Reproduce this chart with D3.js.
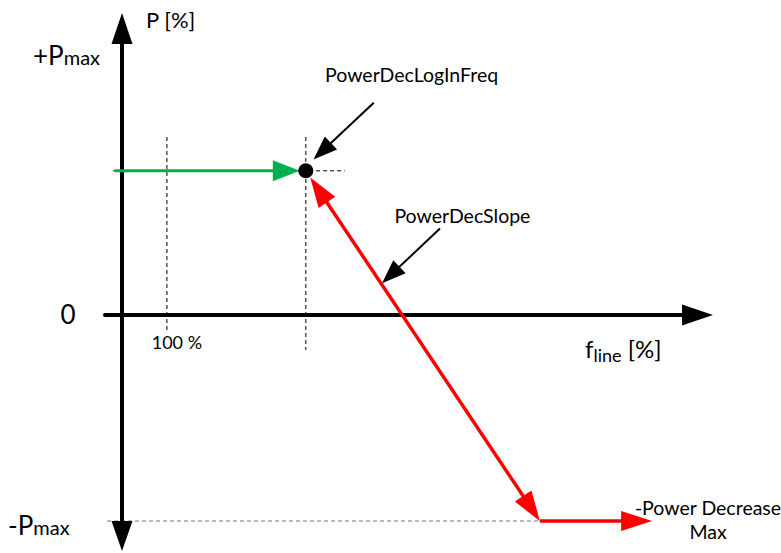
<!DOCTYPE html>
<html><head><meta charset="utf-8">
<script src="https://cdn.jsdelivr.net/npm/d3@7"></script>
<style>body{margin:0;background:#fff}svg{display:block}text{font-family:Lato,"Open Sans",sans-serif;fill:#000}</style>
</head><body>
<script>
// Conceptual data: f in "axis units" (0..100 along the f axis), P in % of Pmax
const curveLogIn = [[-1.2, 70], [31.1, 70]];           // green: constant power up to log-in freq
const curveSlope = [[31.1, 70], [70.7, -100]];          // red: PowerDecSlope
const curveMax   = [[70.7, -100], [89.7, -100]];        // red: -Power Decrease Max
const refFreq = 7.6;            // 100 % mark
const logInFreq = 31.1;         // PowerDecLogInFreq
const yTickLabels = [
  {v: 125.5, t: "+P", s: "max"},
  {v: 0, t: "0", s: ""},
  {v: -102.5, t: "-P", s: "max"}
];
const annotations = [
  {text: "PowerDecLogInFreq", from: [42.6, 103], to: [32.4, 75.5], tx: 49.0, ty: 113},
  {text: "PowerDecSlope", from: [53.8, 42], to: [44.0, 15.4], tx: 57.6, ty: 44.5}
];

const W = 781, H = 553;
const x = d3.scaleLinear().domain([0, 100]).range([122, 713]);
const y = d3.scaleLinear().domain([-100, 100]).range([521, 109]);
const svg = d3.select("body").append("svg").attr("width", W).attr("height", H);
const labelStyle = [{x: 33, anchor: "start"}, {x: 68, anchor: "middle"}, {x: 8, anchor: "start"}];

function arrowHead(g, p0, p1, len, hw, color) {
  const dx = p1[0] - p0[0], dy = p1[1] - p0[1], L = Math.hypot(dx, dy);
  const ux = dx / L, uy = dy / L, bx = p1[0] - ux * len, by = p1[1] - uy * len;
  g.append("path").attr("d", `M${p1[0]},${p1[1]}L${bx - uy * hw},${by + ux * hw}L${bx + uy * hw},${by - ux * hw}Z`).attr("fill", color);
}
function arrowLine(g, p0, p1, color, w, len, hw, both) {
  const dx = p1[0] - p0[0], dy = p1[1] - p0[1], L = Math.hypot(dx, dy);
  const ux = dx / L, uy = dy / L;
  const s = both ? [p0[0] + ux * len * 0.8, p0[1] + uy * len * 0.8] : p0;
  const e = [p1[0] - ux * len * 0.8, p1[1] - uy * len * 0.8];
  g.append("line").attr("x1", s[0]).attr("y1", s[1]).attr("x2", e[0]).attr("y2", e[1]).attr("stroke", color).attr("stroke-width", w);
  arrowHead(g, p0, p1, len, hw, color);
  if (both) arrowHead(g, p1, p0, len, hw, color);
}

// dashed helper lines
svg.append("line").attr("x1", x(refFreq)).attr("x2", x(refFreq)).attr("y1", 137).attr("y2", 330)
  .attr("stroke", "#000").attr("stroke-width", 1).attr("stroke-dasharray", "4,3");
svg.append("line").attr("x1", x(logInFreq)).attr("x2", x(logInFreq)).attr("y1", 137).attr("y2", 350)
  .attr("stroke", "#000").attr("stroke-width", 1).attr("stroke-dasharray", "4,3");
svg.append("line").attr("x1", x(-1.5)).attr("x2", x(37.7)).attr("y1", y(70)).attr("y2", y(70))
  .attr("stroke", "#000").attr("stroke-width", 1).attr("stroke-dasharray", "4,3");
svg.append("line").attr("x1", 107).attr("x2", x(89.7)).attr("y1", y(-100)).attr("y2", y(-100))
  .attr("stroke", "#777", ).attr("stroke-width", 1).attr("stroke-dasharray", "4,3");

// axes
const ax = svg.append("g");
ax.append("line").attr("x1", x(0)).attr("x2", x(0)).attr("y1", 40).attr("y2", 525).attr("stroke", "#000").attr("stroke-width", 4);
arrowHead(ax, [x(0), y(0)], [x(0), 13], 31, 10.5, "#000");
arrowHead(ax, [x(0), y(0)], [x(0), 551], 30, 10.5, "#000");
ax.append("line").attr("x1", 105).attr("x2", 686).attr("y1", y(0)).attr("y2", y(0)).attr("stroke", "#000").attr("stroke-width", 4).attr("stroke-linecap","round");
arrowHead(ax, [x(0), y(0)], [713, y(0)], 31, 10.5, "#000");

// curves
const curves = svg.append("g");
arrowLine(curves, [x(curveLogIn[0][0]), y(curveLogIn[0][1])], [x(curveLogIn[1][0]) - 6, y(curveLogIn[1][1])], "#00b050", 3, 27, 10.5, false);
{
  const p0 = [x(curveSlope[0][0]), y(curveSlope[0][1])], p1 = [x(curveSlope[1][0]), y(curveSlope[1][1])];
  const dx = p1[0] - p0[0], dy = p1[1] - p0[1], L = Math.hypot(dx, dy);
  const a = [p0[0] + dx / L * 8, p0[1] + dy / L * 8];
  arrowLine(curves, a, p1, "#ff0000", 3.5, 30, 10, true);
}
arrowLine(curves, [x(curveMax[0][0]), y(curveMax[0][1])], [x(curveMax[1][0]), y(curveMax[1][1])], "#ff0000", 3.5, 31, 10, false);
curves.append("circle").attr("cx", x(logInFreq)).attr("cy", y(70)).attr("r", 7.5).attr("fill", "#000");

// annotations
annotations.forEach(a => {
  arrowLine(svg, [x(a.from[0]), y(a.from[1])], [x(a.to[0]), y(a.to[1])], "#000", 2, 24, 9, false);
  svg.append("text").attr("x", x(a.tx)).attr("y", y(a.ty)).attr("text-anchor", "middle").attr("font-size", 19.5).text(a.text);
});

// y labels
yTickLabels.forEach((d, i) => {
  const t = svg.append("text").attr("x", labelStyle[i].x).attr("y", y(d.v) + 9).attr("text-anchor", labelStyle[i].anchor).attr("font-size", 26);
  t.append("tspan").text(d.t);
  if (d.s) t.append("tspan").attr("font-size", 20).text(d.s);
});
svg.append("text").attr("x", 146).attr("y", 28).attr("font-size", 22).text("P [%]");
svg.append("text").attr("x", x(refFreq) + 10).attr("y", 349).attr("text-anchor", "middle").attr("font-size", 18).text("100 %");
const fl = svg.append("text").attr("x", 585).attr("y", 358).attr("font-size", 24);
fl.append("tspan").text("f");
fl.append("tspan").attr("font-size", 18).attr("dy", 4).text("line");
fl.append("tspan").attr("dy", -4).text(" [%]");
svg.append("text").attr("x", 708).attr("y", 515).attr("text-anchor", "middle").attr("font-size", 19.5).text("-Power Decrease");
svg.append("text").attr("x", 708).attr("y", 539).attr("text-anchor", "middle").attr("font-size", 19.5).text("Max");
</script>
</body></html>
